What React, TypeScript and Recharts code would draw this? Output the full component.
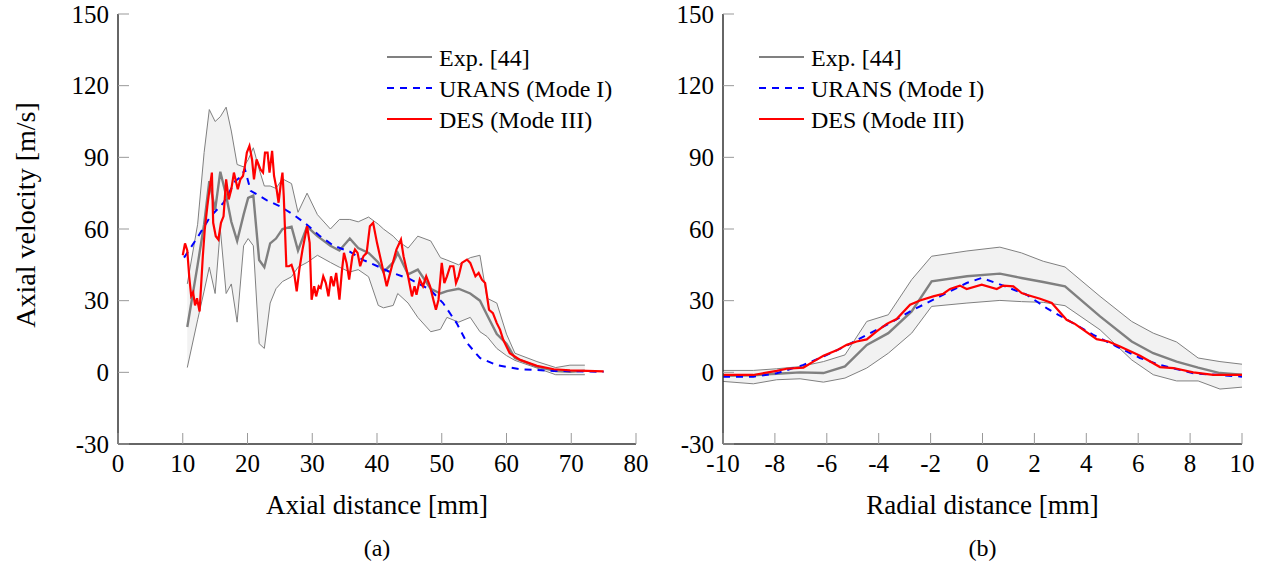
import { Area, ComposedChart, Legend, Line, XAxis, YAxis } from 'recharts';

// ---- (a) axial profile ----
const expAxialX = [
  10.7, 12.3, 13.3, 14.1, 15.0, 15.8, 16.7, 17.5, 18.4, 19.4, 20.1, 20.9, 21.8, 22.6, 23.5, 24.4, 25.4,
  26.8, 27.8, 29.2, 30.8, 32.8, 34.2, 35.8, 37.1, 38.7, 40.2, 41.0, 42.5, 43.2, 44.8, 46.3, 48.3, 49.8,
  50.8, 52.6, 54.4, 55.9, 57.0, 58.5, 60.0, 61.3, 64.7, 67.6, 69.8, 72.1,
];
const expAxialMean = [
  19, 45, 62, 80, 68, 84, 74, 63, 55, 66, 73, 74, 47, 44, 54, 56, 60, 61, 51, 61, 57, 53, 51, 56, 52, 50,
  46, 42, 46, 50, 41, 43, 35, 33, 34, 35, 33, 30, 24, 16, 12, 6, 2.4, 0.5, 0.2, 0.7,
];
const expAxialUpper = [
  37, 62, 92, 110, 105, 107, 111, 101, 87, 86, 89, 94, 85, 78, 78, 77, 81, 79, 67, 75, 66, 60, 64, 64, 63,
  65, 62, 60, 57, 55, 52, 57, 55, 48, 47, 45, 48, 49, 31, 29, 16, 8, 4.5, 2, 3, 3,
];
const expAxialLower = [
  2, 22, 34, 44, 33, 60, 33, 37, 21, 53, 56, 53, 12, 10, 29, 35, 38, 40, 44, 46, 49, 46, 44, 42, 43, 40,
  28, 27, 28, 33, 29, 23, 17, 18, 23, 21, 23, 17, 15, 10, 7, 5, 1.8, -1, -1, -1,
];
const uransAxialX = [
  10.2, 12.4, 14.2, 16.3, 18.1, 19.0, 19.6, 20.5, 23.0, 25.0, 27.1, 29.1, 31.2, 33.3, 35.8, 37.9, 40.0,
  42.0, 45.1, 48.2, 50.2, 52.3, 53.9, 55.9, 58.5, 62.1, 67.3, 75.0,
];
const uransAxialY = [
  48, 57, 65, 71, 80, 82, 85, 76, 72, 69.5, 66, 62, 57, 53, 50.5, 47, 44.5, 42, 39, 34.6, 29, 20.6, 12.3,
  6, 3, 1.3, 0.6, 0.2,
];
const desAxialX = [
  10.0, 10.35, 10.7, 11.0, 11.3, 11.6, 11.9, 12.2, 12.6, 13.1, 13.4, 13.8, 14.1, 14.5, 14.7, 15.1, 15.5,
  15.9, 16.3, 16.7, 17.1, 17.5, 17.9, 18.5, 18.9, 19.3, 19.6, 19.9, 20.3, 20.7, 21.0, 21.4, 22.0, 22.4,
  22.7, 23.1, 23.4, 23.8, 24.1, 24.5, 24.8, 25.1, 25.4, 25.6, 26.0, 26.4, 26.8, 27.2, 27.6, 28.0, 28.5,
  28.9, 29.2, 29.6, 29.9, 30.3, 30.6, 31.0, 31.3, 31.7, 32.1, 32.5, 32.9, 33.3, 33.7, 34.2, 34.6, 34.9,
  35.3, 35.7, 36.2, 36.6, 37.0, 37.4, 37.9, 38.4, 38.9, 39.4, 40.0, 40.7, 41.5, 42.3, 43.0, 43.7, 44.1,
  44.8, 45.4, 45.8, 46.1, 46.6, 47.1, 47.6, 48.2, 48.7, 49.1, 49.5, 50.0, 50.4, 50.8, 51.3, 51.8, 52.2,
  52.6, 53.1, 53.9, 54.4, 55.2, 55.7, 56.2, 56.7, 57.3, 57.9, 58.5, 59.0, 59.5, 60.5, 62.1, 64.7, 67.3,
  69.8, 75.0,
];
const desAxialY = [
  49, 54, 51, 40, 32, 33.5, 28, 31, 25.5, 48.6, 59.8, 69.6, 76, 83.6, 62.6, 57, 55.6, 62.6, 65.3, 80.8,
  72.4, 76.6, 83.6, 76.6, 80.8, 82.2, 86.4, 92, 94.8, 89.1, 80.8, 89.1, 84.9, 83.6, 92, 92, 83.6, 92.7,
  82.2, 76.6, 71, 78, 83.6, 73.8, 44.4, 44.4, 45, 41.6, 33.9, 43, 51.4, 57, 61.2, 54.2, 30.4, 36, 31.8,
  36, 35.3, 40.2, 37.4, 31.8, 40.2, 36, 41.6, 30.4, 43, 50, 45.8, 38.8, 48.6, 51.4, 50, 44.4, 48.6, 50,
  61.2, 62.6, 54.2, 45.8, 36, 44.4, 51.4, 55.6, 48.6, 40.2, 31.8, 36, 32.5, 38.8, 36, 40.2, 36, 30.4,
  26.2, 30.4, 45.8, 37.4, 40.2, 44.4, 44.4, 37.4, 40.2, 45.8, 47.2, 45.8, 40.2, 41.6, 38.8, 37.4, 26.2,
  24.8, 20.6, 17.9, 13.6, 8, 5.2, 2.7, 1.3, 0.8, 0.4,
];

// ---- (b) radial profile ----
const expRadialX = [
  -10, -8.83, -7.93, -7.03, -6.13, -5.3, -4.46, -3.63, -2.73, -1.96, -0.6, 0.67, 1.5, 2.34, 3.18, 4.53,
  5.75, 6.58, 7.48, 8.31, 9.15, 10,
];
const expRadialMean = [
  -1.5, -1.2, -0.6, 0, -0.3, 2.5, 11.5, 16.4, 25.5, 38.1, 40.2, 41.3, 39.5, 37.8, 36, 23.4, 12.9, 8, 4.5,
  2, -0.3, -1,
];
const expRadialUpper = [
  0.8, 0.8, 1.5, 2.4, 4.5, 7.3, 21.3, 24.1, 38.8, 48.6, 50.8, 52.4, 50, 46.5, 44.1, 31.8, 21.3, 16.4,
  12.7, 6, 4.5, 3.4,
];
const expRadialLower = [
  -3.8, -4.8, -3.1, -2.7, -4.1, -2.4, 1.8, 8, 16.4, 27.6, 29, 30.1, 29.6, 29.3, 27.9, 17.8, 5.2, -1, -3.6,
  -3.6, -7, -6.2,
];
const uransRadialX = [
  -10, -8.83, -7.93, -6.9, -6.13, -5.3, -4.46, -3.56, -2.67, -1.64, -0.61, -0.03, 0.8, 1.7, 2.47, 3.37,
  4.27, 5.17, 6.07, 6.84, 8.12, 10,
];
const uransRadialY = [
  -1.8, -1.8, -0.4, 3.1, 6.6, 10.8, 15.7, 20.6, 26.2, 31.8, 37.4, 39.5, 36.3, 32.5, 26.9, 21.3, 15.7,
  10.8, 6, 3.1, -0.4, -1.8,
];
const desRadialX = [
  -10, -8.83, -7.93, -7.55, -6.9, -6.52, -6.13, -5.62, -5.23, -4.85, -4.46, -4.08, -3.69, -3.31, -2.79,
  -2.41, -1.9, -1.51, -1.25, -0.87, -0.61, -0.03, 0.55, 0.8, 1.19, 1.51, 1.7, 2.22, 2.67, 3.24, 3.56,
  4.4, 4.85, 5.3, 6.07, 6.84, 7.36, 8.12, 8.89, 10,
];
const desRadialY = [
  -1.1, -1.1, 0.6, 1.5, 2, 4.5, 6.9, 9.2, 11.5, 12.9, 13.8, 17.1, 20.3, 22.3, 28.3, 30.1, 31.8, 32.9,
  34.9, 36.3, 34.9, 36.7, 34.9, 36.3, 36, 33.2, 32.5, 30.8, 29, 22, 20.3, 13.9, 12.9, 10.8, 6.9, 2.2,
  1.8, 0, -1.1, -1.1,
];

const velocityTicks = [-30, 0, 30, 60, 90, 120, 150];
const axialTicks = [0, 10, 20, 30, 40, 50, 60, 70, 80];
const radialTicks = [-10, -8, -6, -4, -2, 0, 2, 4, 6, 8, 10];
const seriesNames = ['Exp. [44]', 'URANS (Mode I)', 'DES (Mode III)'];

const FONT = "'Liberation Serif', 'Times New Roman', serif";
const FRAME = '#333';
const TICK = '#999';
const TL = 11;
const EXP = '#808080';
const URANS = '#0000ff';
const DES = '#ff0000';
const DASH = '7 6';

const pts = (xs: number[], ys: number[]) => xs.map((x, i) => ({ x, y: ys[i] }));
const band = (xs: number[], lo: number[], hi: number[]) =>
  xs.map((x, i) => ({ x, range: [lo[i], hi[i]] }));

const BottomTick = (p: any) => (
  <g>
    <line x1={p.x} y1={p.y} x2={p.x} y2={p.y - TL} stroke={TICK} />
    <text x={p.x} y={p.y + 28} textAnchor="middle" fontSize={25} fontFamily={FONT} fill="#000">
      {p.payload.value}
    </text>
  </g>
);
const TopTick = (p: any) => <line x1={p.x} y1={p.y} x2={p.x} y2={p.y + TL} stroke={TICK} />;
const LeftTick = (p: any) => (
  <g>
    <line x1={p.x} y1={p.y} x2={p.x + TL} y2={p.y} stroke={TICK} />
    <text x={p.x - 9} y={p.y + 8.5} textAnchor="end" fontSize={25} fontFamily={FONT} fill="#000">
      {p.payload.value}
    </text>
  </g>
);
const RightTick = (p: any) => <line x1={p.x} y1={p.y} x2={p.x - TL} y2={p.y} stroke={TICK} />;

const LegendBox = () => {
  const styles = [
    { color: EXP, dash: undefined },
    { color: URANS, dash: DASH },
    { color: DES, dash: undefined },
  ];
  return (
    <svg width={260} height={100} style={{ overflow: 'visible' }}>
      {seriesNames.map((name, i) => {
        const y = 17 + i * 31;
        return (
          <g key={name}>
            <line x1={0} x2={45} y1={y} y2={y} stroke={styles[i].color} strokeWidth={2.2} strokeDasharray={styles[i].dash} />
            <text x={52} y={y + 8.5} fontSize={24} fontFamily={FONT} fill="#000">
              {name}
            </text>
          </g>
        );
      })}
    </svg>
  );
};

type PanelProps = {
  left: number;
  width: number;
  axisWidth: number;
  rightMargin: number;
  xDomain: [number, number];
  xTicks: number[];
  xTitle: string;
  tag: string;
  legendLeft: number;
  yTitle?: string;
  expX: number[];
  mean: number[];
  upper: number[];
  lower: number[];
  uransX: number[];
  uransY: number[];
  desX: number[];
  desY: number[];
};

const Panel = (props: PanelProps) => {
  const plotW = props.width - props.axisWidth - props.rightMargin;
  const cx = props.axisWidth + plotW / 2;
  return (
    <div style={{ position: 'absolute', left: props.left, top: 0 }}>
      <ComposedChart
        width={props.width}
        height={565}
        margin={{ top: 14, right: props.rightMargin, bottom: 0, left: 0 }}
      >
        <XAxis
          type="number"
          dataKey="x"
          domain={props.xDomain}
          ticks={props.xTicks}
          interval={0}
          allowDataOverflow
          height={121}
          tickLine={false}
          tickSize={0}
          tickMargin={0}
          tick={BottomTick}
          axisLine={{ stroke: FRAME, strokeWidth: 1.5 }}
          label={() => (
            <g fontFamily={FONT} fill="#000">
              <text x={cx} y={514} textAnchor="middle" fontSize={27}>
                {props.xTitle}
              </text>
              <text x={cx} y={556} textAnchor="middle" fontSize={24}>
                {props.tag}
              </text>
            </g>
          )}
        />
        <XAxis
          xAxisId="top"
          orientation="top"
          type="number"
          domain={props.xDomain}
          ticks={props.xTicks}
          interval={0}
          allowDataOverflow
          height={0}
          tickLine={false}
          tickSize={0}
          tickMargin={0}
          tick={TopTick}
          axisLine={{ stroke: FRAME, strokeWidth: 1.5 }}
        />
        <YAxis
          type="number"
          domain={[-30, 150]}
          ticks={velocityTicks}
          interval={0}
          allowDataOverflow
          width={props.axisWidth}
          tickLine={false}
          tickSize={0}
          tickMargin={0}
          tick={LeftTick}
          axisLine={{ stroke: FRAME, strokeWidth: 1.5 }}
          label={() =>
            props.yTitle ? (
              <text
                x={35}
                y={215}
                transform="rotate(-90, 35, 215)"
                textAnchor="middle"
                fontSize={28}
                fontFamily={FONT}
                fill="#000"
              >
                {props.yTitle}
              </text>
            ) : null
          }
        />
        <YAxis
          yAxisId="right"
          orientation="right"
          type="number"
          domain={[-30, 150]}
          ticks={velocityTicks}
          interval={0}
          allowDataOverflow
          width={0}
          tickLine={false}
          tickSize={0}
          tickMargin={0}
          tick={RightTick}
          axisLine={{ stroke: FRAME, strokeWidth: 1.5 }}
        />
        <Area
          data={band(props.expX, props.lower, props.upper)}
          dataKey="range"
          type="linear"
          fill="#f2f2f2"
          fillOpacity={1}
          stroke="none"
          isAnimationActive={false}
          legendType="none"
        />
        <Line data={pts(props.expX, props.upper)} dataKey="y" type="linear" stroke={EXP} strokeWidth={1} dot={false} activeDot={false} isAnimationActive={false} legendType="none" />
        <Line data={pts(props.expX, props.lower)} dataKey="y" type="linear" stroke={EXP} strokeWidth={1} dot={false} activeDot={false} isAnimationActive={false} legendType="none" />
        <Line data={pts(props.expX, props.mean)} dataKey="y" name={seriesNames[0]} type="linear" stroke={EXP} strokeWidth={2.4} dot={false} activeDot={false} isAnimationActive={false} />
        <Line data={pts(props.uransX, props.uransY)} dataKey="y" name={seriesNames[1]} type="linear" stroke={URANS} strokeWidth={2} strokeDasharray={DASH} dot={false} activeDot={false} isAnimationActive={false} />
        <Line data={pts(props.desX, props.desY)} dataKey="y" name={seriesNames[2]} type="linear" stroke={DES} strokeWidth={2.2} dot={false} activeDot={false} isAnimationActive={false} />
        <Legend
          layout="vertical"
          align="center"
          verticalAlign="middle"
          content={LegendBox}
          wrapperStyle={{ position: 'absolute', left: props.legendLeft, top: 40, width: 260, height: 100 }}
        />
      </ComposedChart>
    </div>
  );
};

export default function App() {
  return (
    <div style={{ position: 'absolute', left: 0, top: 0, width: 1270, height: 565, background: '#fff', fontFamily: FONT }}>
      <Panel
        left={0}
        width={662}
        axisWidth={118}
        rightMargin={26}
        xDomain={[0, 80]}
        xTicks={axialTicks}
        xTitle="Axial distance [mm]"
        tag="(a)"
        yTitle="Axial velocity [m/s]"
        legendLeft={387}
        expX={expAxialX}
        mean={expAxialMean}
        upper={expAxialUpper}
        lower={expAxialLower}
        uransX={uransAxialX}
        uransY={uransAxialY}
        desX={desAxialX}
        desY={desAxialY}
      />
      <Panel
        left={640}
        width={630}
        axisWidth={83}
        rightMargin={28}
        xDomain={[-10, 10]}
        xTicks={radialTicks}
        xTitle="Radial distance [mm]"
        tag="(b)"
        legendLeft={119}
        expX={expRadialX}
        mean={expRadialMean}
        upper={expRadialUpper}
        lower={expRadialLower}
        uransX={uransRadialX}
        uransY={uransRadialY}
        desX={desRadialX}
        desY={desRadialY}
      />
    </div>
  );
}
